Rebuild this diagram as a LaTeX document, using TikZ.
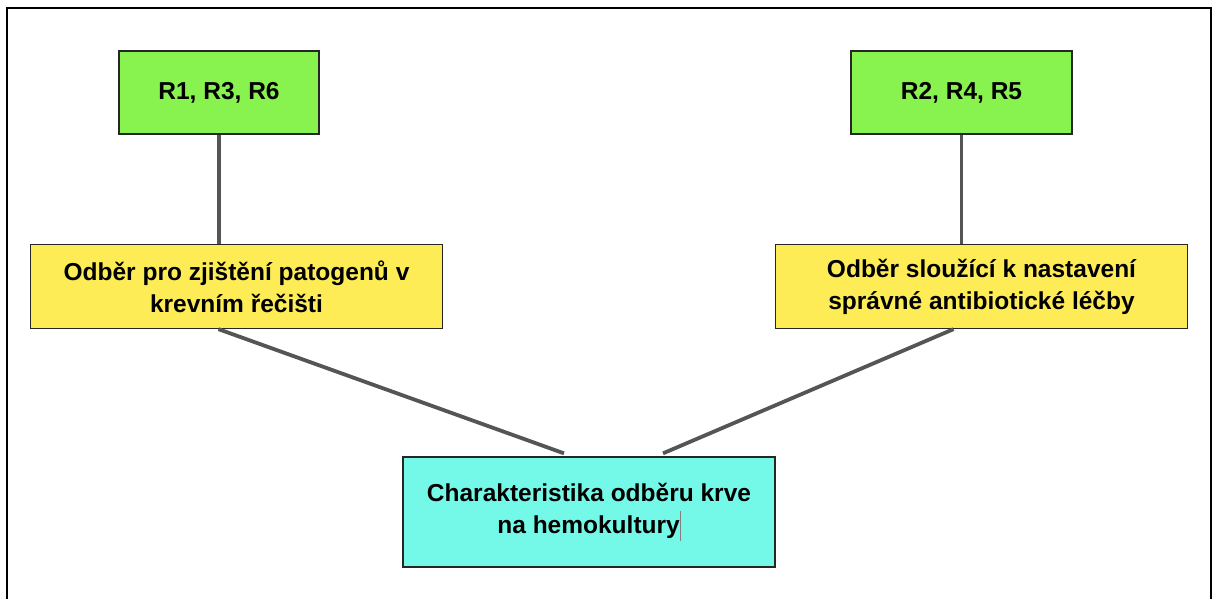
\documentclass[tikz,border=0pt]{standalone}
\usepackage{fontspec}
\setmainfont{Liberation Sans}
\usepackage{xcolor}
\usetikzlibrary{positioning}

\definecolor{boxgreen}{HTML}{88F24E}
\definecolor{boxyellow}{HTML}{FDEC55}
\definecolor{boxcyan}{HTML}{74F9E8}
\definecolor{linkgray}{HTML}{555555}

\tikzset{
  box/.style={draw=black!85, line width=1.3pt, align=center, inner sep=0pt,
    font=\fontsize{24.5}{32}\selectfont\bfseries},
  link/.style={linkgray, line width=3.8pt}
}

\begin{document}
\begin{tikzpicture}[x=1pt,y=-1pt]
\useasboundingbox (0,0) rectangle (1218,599);
% frame
\draw[line width=2.4pt] (7,605) -- (7,8) -- (1211,8) -- (1211,605);

\node[box, fill=boxgreen, minimum width=200pt, minimum height=83pt] (g1) at (219,92.5) {R1, R3, R6};
\node[box, fill=boxgreen, minimum width=221pt, minimum height=83pt] (g2) at (961.5,92.5) {R2, R4, R5};

\node[box, fill=boxyellow, minimum width=412pt, minimum height=84pt] (y1) at (236.5,286.5)
  {Odběr pro zjištění patogenů v\\krevním řečišti};
\node[box, fill=boxyellow, minimum width=412pt, minimum height=84pt] (y2) at (981.5,286.5)
  {Odběr sloužící k nastavení\\správné antibiotické léčby};

\node[box, fill=boxcyan, minimum width=372pt, minimum height=110pt] (hc) at (589,512)
  {Charakteristika odběru krve\\na hemokultury\textcolor{gray}{\rule[-7pt]{0.8pt}{30pt}}};

% connectors
\draw[link] (g1.south) -- (g1.south |- y1.north);
\draw[link] (g2.south) -- (g2.south |- y2.north);
\draw[link] ([xshift=-18pt]y1.south) -- ([xshift=-25pt,yshift=3pt]hc.north);
\draw[link] ([xshift=-28pt]y2.south) -- ([xshift=74pt,yshift=3pt]hc.north);
\end{tikzpicture}
\end{document}
